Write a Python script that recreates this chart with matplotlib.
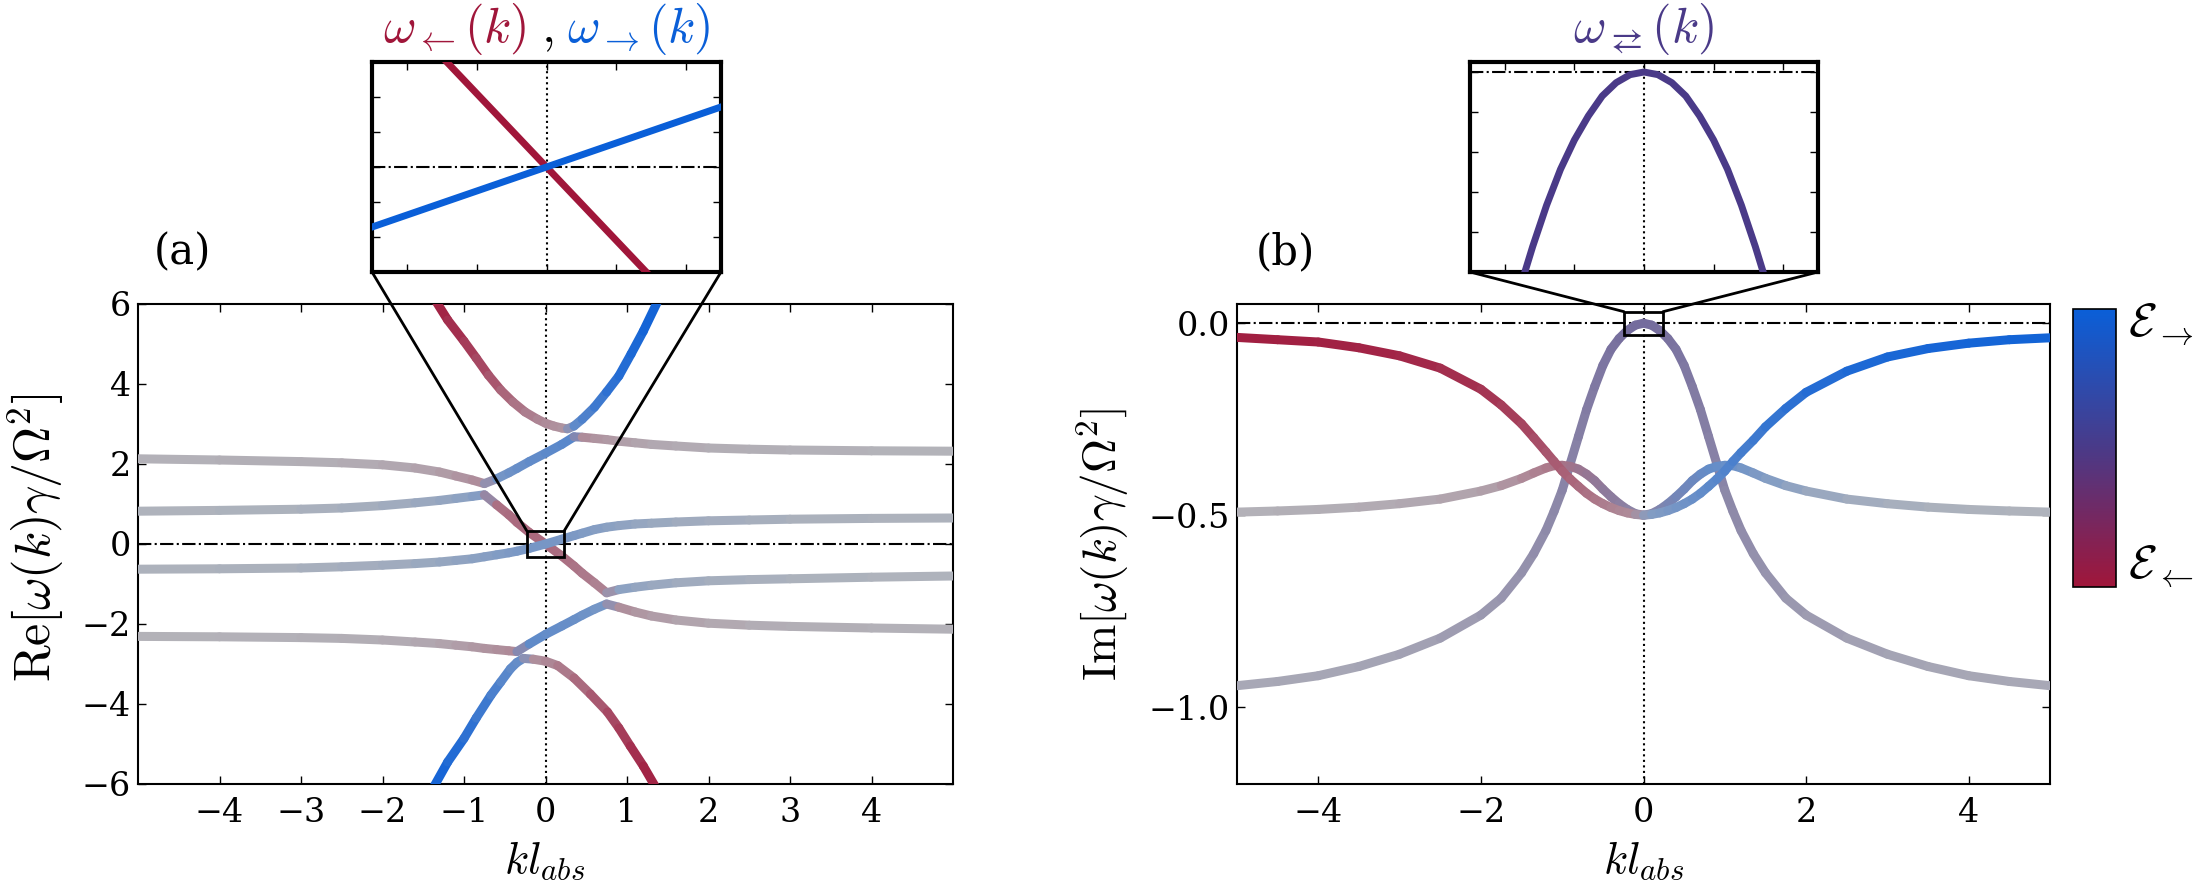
import numpy as np
import matplotlib
matplotlib.use('Agg')
import matplotlib.pyplot as plt
from matplotlib.collections import LineCollection
from matplotlib.colors import LinearSegmentedColormap, to_rgb
from matplotlib.patches import Rectangle, ConnectionPatch
from matplotlib.cm import ScalarMappable
from matplotlib.ticker import FuncFormatter

plt.rcParams['font.family'] = 'DejaVu Serif'
plt.rcParams['mathtext.fontset'] = 'cm'

# ---------------- panel (a): Re[omega] ----------------
# common k grid for the four long bands
k_re = [-5, -4, -3, -2.5, -2, -1.6, -1.3, -1.1, -0.9, -0.75, -0.6, -0.45, -0.35, -0.2, 0,
        0.2, 0.35, 0.45, 0.6, 0.75, 0.9, 1.1, 1.3, 1.6, 2, 2.5, 3, 4, 5]

re_band2 = [2.13, 2.10, 2.06, 2.03, 1.98, 1.90, 1.80, 1.70, 1.60, 1.51, 1.63, 1.78, 1.89, 2.06, 2.27,
            2.49, 2.68, 2.67, 2.64, 2.61, 2.57, 2.53, 2.49, 2.45, 2.40, 2.37, 2.35, 2.33, 2.32]
re_band2_r = [0] * 10 + [1] * 7 + [0] * 12
re_band2_w = [0.02, 0.03, 0.04, 0.05, 0.07, 0.10, 0.14, 0.18, 0.23, 0.27,
              0.35, 0.40, 0.43, 0.47, 0.50, 0.53, 0.55,
              0.28, 0.23, 0.19, 0.16, 0.12, 0.09, 0.07, 0.05, 0.04, 0.03, 0.02, 0.01]

re_band3 = [0.82, 0.84, 0.87, 0.90, 0.96, 1.03, 1.09, 1.14, 1.19, 1.23, 0.98, 0.73, 0.54, 0.29, 0.0,
            -0.30, -0.55, -0.73, -0.97, -1.22, -1.14, -1.08, -1.03, -0.97, -0.92, -0.89, -0.87, -0.83, -0.80]
re_band3_r = [1] * 10 + [0] * 10 + [1] * 9
re_band3_w = [0.02, 0.03, 0.05, 0.07, 0.10, 0.13, 0.17, 0.20, 0.25, 0.30,
              0.42, 0.45, 0.47, 0.48, 0.48, 0.45, 0.42, 0.40, 0.35, 0.30,
              0.25, 0.20, 0.17, 0.13, 0.10, 0.07, 0.05, 0.03, 0.02]

re_band4 = [-0.63, -0.62, -0.60, -0.57, -0.53, -0.49, -0.45, -0.41, -0.37, -0.32, -0.27, -0.22, -0.18, -0.11, 0.0,
            0.12, 0.21, 0.27, 0.36, 0.42, 0.46, 0.50, 0.52, 0.55, 0.58, 0.60, 0.62, 0.64, 0.65]
re_band4_r = [1] * 29
re_band4_w = [0.03, 0.04, 0.06, 0.08, 0.10, 0.13, 0.16, 0.19, 0.22, 0.25, 0.28, 0.31, 0.33, 0.35, 0.36,
              0.35, 0.33, 0.31, 0.28, 0.25, 0.22, 0.19, 0.16, 0.13, 0.10, 0.08, 0.06, 0.04, 0.03]

re_band5 = [-2.31, -2.32, -2.34, -2.36, -2.40, -2.45, -2.49, -2.53, -2.57, -2.61, -2.64, -2.67, -2.69, -2.50, -2.26,
            -2.05, -1.89, -1.78, -1.63, -1.50, -1.58, -1.70, -1.80, -1.90, -1.98, -2.03, -2.06, -2.10, -2.13]
re_band5_r = [0] * 13 + [1] * 7 + [0] * 9
re_band5_w = [0.02, 0.02, 0.03, 0.04, 0.05, 0.07, 0.10, 0.13, 0.17, 0.20, 0.23, 0.26, 0.28,
              0.50, 0.48, 0.46, 0.44, 0.42, 0.38, 0.35,
              0.27, 0.21, 0.17, 0.13, 0.09, 0.06, 0.04, 0.03, 0.02]

# steep outer bands
k_top = [-1.4, -1.2, -1.0, -0.85, -0.7, -0.55, -0.4, -0.25, -0.1, 0.0, 0.1, 0.2, 0.27,
         0.35, 0.45, 0.6, 0.75, 0.9, 1.05, 1.2, 1.42]
re_top = [6.25, 5.6, 5.07, 4.65, 4.22, 3.85, 3.55, 3.3, 3.12, 3.02, 2.95, 2.9, 2.88,
          2.95, 3.12, 3.42, 3.8, 4.2, 4.75, 5.32, 6.25]
re_top_r = [0] * 13 + [1] * 8
re_top_w = [0.95, 0.88, 0.80, 0.72, 0.65, 0.55, 0.45, 0.38, 0.32, 0.28, 0.25, 0.22, 0.20,
            0.45, 0.55, 0.65, 0.75, 0.82, 0.88, 0.92, 0.96]

k_bot = [-1.42, -1.2, -1.0, -0.85, -0.67, -0.55, -0.43, -0.35, -0.27,
         -0.15, 0.0, 0.15, 0.35, 0.55, 0.76, 0.9, 1.04, 1.2, 1.4]
re_bot = [-6.25, -5.45, -4.86, -4.35, -3.78, -3.45, -3.12, -2.96, -2.86,
          -2.88, -2.93, -3.04, -3.35, -3.75, -4.2, -4.6, -5.05, -5.55, -6.25]
re_bot_r = [1] * 9 + [0] * 10
re_bot_w = [0.95, 0.90, 0.82, 0.75, 0.65, 0.58, 0.50, 0.47, 0.45,
            0.22, 0.27, 0.32, 0.42, 0.52, 0.65, 0.72, 0.80, 0.88, 0.95]

# ---------------- panel (b): Im[omega] ----------------
k_im = [-5, -4.5, -4, -3.5, -3, -2.5, -2, -1.75, -1.5, -1.35, -1.2, -1.1, -1, -0.9, -0.8, -0.7,
        -0.6, -0.5, -0.4, -0.3, -0.2, -0.1, 0,
        0.1, 0.2, 0.3, 0.4, 0.5, 0.6, 0.7, 0.8, 0.9, 1, 1.1, 1.2, 1.35, 1.5, 1.75, 2, 2.5, 3,
        3.5, 4, 4.5, 5]

im_dir = [-0.037, -0.043, -0.049, -0.064, -0.085, -0.117, -0.172, -0.213, -0.262, -0.298, -0.335,
          -0.360, -0.385, -0.406, -0.425, -0.443, -0.458, -0.470, -0.480, -0.488, -0.494, -0.498,
          -0.500,
          -0.498, -0.494, -0.488, -0.480, -0.470, -0.458, -0.443, -0.425, -0.406, -0.385, -0.360,
          -0.337, -0.305, -0.270, -0.222, -0.180, -0.125, -0.088, -0.066, -0.052, -0.043, -0.038]
im_dir_r = [0] * 22 + [0.5] + [1] * 22
im_dir_w = [0.95, 0.94, 0.93, 0.92, 0.90, 0.87, 0.82, 0.78, 0.72, 0.67, 0.62, 0.58, 0.55, 0.51,
            0.48, 0.44, 0.40, 0.37, 0.33, 0.30, 0.28, 0.26,
            0.25,
            0.28, 0.30, 0.33, 0.36, 0.39, 0.42, 0.46, 0.50, 0.53, 0.56, 0.60, 0.63, 0.68, 0.72,
            0.78, 0.82, 0.87, 0.90, 0.92, 0.93, 0.94, 0.95]

im_bump = [-0.492, -0.489, -0.485, -0.479, -0.470, -0.458, -0.437, -0.423, -0.404, -0.390, -0.377,
           -0.371, -0.370, -0.373, -0.380, -0.393, -0.410, -0.432, -0.452, -0.470, -0.485, -0.496,
           -0.500,
           -0.496, -0.485, -0.470, -0.452, -0.432, -0.410, -0.393, -0.380, -0.373, -0.370, -0.371,
           -0.377, -0.390, -0.404, -0.423, -0.437, -0.458, -0.470, -0.479, -0.485, -0.489, -0.492]
im_bump_r = [0] * 12 + [0.05, 0.1, 0.2, 0.25, 0.3, 0.35, 0.4, 0.42, 0.45, 0.48,
                        0.5,
                        0.55, 0.6, 0.68, 0.75, 0.8, 0.85, 0.9, 1, 1, 1] + [1] * 12
im_bump_w = [0.02, 0.03, 0.04, 0.05, 0.07, 0.09, 0.12, 0.16, 0.25, 0.30, 0.35, 0.39, 0.42, 0.44,
             0.45, 0.45, 0.45, 0.45, 0.45, 0.43, 0.41, 0.38,
             0.35,
             0.39, 0.42, 0.44, 0.45, 0.46, 0.47, 0.47, 0.47, 0.46, 0.45, 0.42, 0.39, 0.34, 0.30,
             0.24, 0.18, 0.12, 0.08, 0.06, 0.04, 0.03, 0.02]

im_bell = [-0.944, -0.933, -0.918, -0.894, -0.862, -0.820, -0.760, -0.716, -0.650, -0.600, -0.540,
           -0.490, -0.435, -0.365, -0.295, -0.225, -0.165, -0.110, -0.068, -0.040, -0.019, -0.005,
           0.0,
           -0.005, -0.019, -0.040, -0.068, -0.110, -0.165, -0.225, -0.295, -0.365, -0.435, -0.490,
           -0.540, -0.600, -0.650, -0.716, -0.760, -0.820, -0.862, -0.894, -0.918, -0.933, -0.944]
im_bell_r = [0.5] * 45
im_bell_w = [0.10, 0.11, 0.12, 0.13, 0.15, 0.18, 0.22, 0.25, 0.28, 0.31, 0.34, 0.36, 0.38, 0.41,
             0.43, 0.46, 0.48, 0.51, 0.53, 0.56, 0.58, 0.59,
             0.60,
             0.59, 0.58, 0.56, 0.53, 0.51, 0.48, 0.46, 0.43, 0.41, 0.38, 0.36, 0.34, 0.31, 0.28,
             0.25, 0.22, 0.18, 0.15, 0.13, 0.12, 0.11, 0.10]

# ---------------- insets ----------------
k_ins_left = [-0.16, 0.16]
ins_left_red = [0.28, -0.28]
k_ins_blue = [-0.25, 0.25]
ins_left_blue = [-0.143, 0.143]

k_ins_right = [-0.2, -0.18, -0.16, -0.14, -0.12, -0.1, -0.08, -0.06, -0.04, -0.02, 0,
               0.02, 0.04, 0.06, 0.08, 0.1, 0.12, 0.14, 0.16, 0.18, 0.2]
ins_right = [-0.0204, -0.0165, -0.0131, -0.0100, -0.0073, -0.0051, -0.0033, -0.0018, -0.0008, -0.0002, 0,
             -0.0002, -0.0008, -0.0018, -0.0033, -0.0051, -0.0073, -0.0100, -0.0131, -0.0165, -0.0204]

# ---------------- drawing ----------------
W, H = 2195, 883
fig = plt.figure(figsize=(W / 100, H / 100), dpi=100)


def box(x0, y0, x1, y1):
    return [x0 / W, 1 - y1 / H, (x1 - x0) / W, (y1 - y0) / H]


cmap = LinearSegmentedColormap.from_list('dirn', ['#a0163a', '#4a3a88', '#0a5fd8'])
grey = np.array(to_rgb('#b3b5bb'))


def colored_line(ax, k, y, r, w, lw=6.5):
    base = cmap(np.asarray(r, float))[:, :3]
    ww = np.asarray(w, float)[:, None]
    cols = (1 - ww) * grey + ww * base
    pts = np.column_stack([k, y])
    segs = np.stack([pts[:-1], pts[1:]], axis=1)
    lc = LineCollection(segs, colors=0.5 * (cols[:-1] + cols[1:]), linewidths=lw,
                        capstyle='round', zorder=3)
    ax.add_collection(lc)


def style(ax, inset=False):
    ax.tick_params(direction='in', top=True, right=True, length=6, width=1,
                   labelsize=24)
    for s in ax.spines.values():
        s.set_linewidth(3 if inset else 1.5)
    ax.axhline(0, color='k', ls='-.', lw=1.5, zorder=2)
    ax.axvline(0, color='k', ls=':', lw=1.5, zorder=2)


minus = FuncFormatter(lambda v, p: ('%g' % v).replace('-', '\u2212'))
minus1 = FuncFormatter(lambda v, p: ('%.1f' % v).replace('-', '\u2212'))

# panel (a)
axa = fig.add_axes(box(138, 304, 953, 784))
style(axa)
axa.set_xlim(-5, 5)
axa.set_ylim(-6, 6)
axa.set_xticks(range(-4, 5))
axa.set_yticks(range(-6, 7, 2))
axa.xaxis.set_major_formatter(minus)
axa.yaxis.set_major_formatter(minus)
axa.tick_params(axis='x', pad=9)
axa.tick_params(axis='y', pad=5)
colored_line(axa, k_re, re_band2, re_band2_r, re_band2_w)
colored_line(axa, k_re, re_band3, re_band3_r, re_band3_w)
colored_line(axa, k_re, re_band4, re_band4_r, re_band4_w)
colored_line(axa, k_re, re_band5, re_band5_r, re_band5_w)
colored_line(axa, k_top, re_top, re_top_r, re_top_w)
colored_line(axa, k_bot, re_bot, re_bot_r, re_bot_w)
axa.add_patch(Rectangle((-0.23, -0.33), 0.46, 0.66, fill=False, ec='k', lw=2, zorder=6))

# panel (b)
axb = fig.add_axes(box(1237, 304, 2050, 784))
style(axb)
axb.set_xlim(-5, 5)
axb.set_ylim(-1.2, 0.05)
axb.set_xticks([-4, -2, 0, 2, 4])
axb.set_yticks([0, -0.5, -1.0])
axb.xaxis.set_major_formatter(minus)
axb.yaxis.set_major_formatter(minus1)
axb.tick_params(axis='x', pad=9)
axb.tick_params(axis='y', pad=5)
colored_line(axb, k_im, im_bell, im_bell_r, im_bell_w)
colored_line(axb, k_im, im_bump, im_bump_r, im_bump_w)
colored_line(axb, k_im, im_dir, im_dir_r, im_dir_w)
axb.add_patch(Rectangle((-0.24, -0.03), 0.48, 0.06, fill=False, ec='k', lw=2, zorder=6))

# axis labels
fig.text(36 / W, 1 - 538 / H, r'$\mathrm{Re}[\omega(k)\gamma/\Omega^2]$', rotation=90,
         fontsize=36, ha='center', va='center')
fig.text(1103 / W, 1 - 544 / H, r'$\mathrm{Im}[\omega(k)\gamma/\Omega^2]$', rotation=90,
         fontsize=34, ha='center', va='center')
fig.text(545 / W, 1 - 860 / H, r'$kl_{abs}$', fontsize=32, ha='center', va='center')
fig.text(1644 / W, 1 - 860 / H, r'$kl_{abs}$', fontsize=32, ha='center', va='center')
fig.text(182 / W, 1 - 252 / H, '(a)', fontsize=30, ha='center', va='center')
fig.text(1285 / W, 1 - 252 / H, '(b)', fontsize=30, ha='center', va='center')

c_red, c_pur, c_blue = cmap(0.0), cmap(0.5), cmap(1.0)

# inset (a)
ins_a = fig.add_axes(box(372, 62, 721, 272))
style(ins_a, inset=True)
ins_a.set_xlim(-0.25, 0.25)
ins_a.set_ylim(-0.25, 0.25)
ins_a.set_xticks([-0.2, -0.1, 0, 0.1, 0.2])
ins_a.set_yticks(np.linspace(-0.25, 0.25, 7)[1:-1])
ins_a.set_xticklabels([])
ins_a.set_yticklabels([])
ins_a.plot(k_ins_left, ins_left_red, color=c_red, lw=5, zorder=3)
ins_a.plot(k_ins_blue, ins_left_blue, color=c_blue, lw=5, zorder=3)

# inset (b)
ins_b = fig.add_axes(box(1470, 62, 1818, 272))
style(ins_b, inset=True)
ins_b.set_xlim(-0.25, 0.25)
ins_b.set_ylim(-0.015, 0.00075)
ins_b.set_xticks([-0.2, -0.1, 0, 0.1, 0.2])
ins_b.set_yticks([-0.012, -0.009, -0.006, -0.003, 0])
ins_b.set_xticklabels([])
ins_b.set_yticklabels([])
ins_b.plot(k_ins_right, ins_right, color=c_pur, lw=5, zorder=3, solid_joinstyle='round')

# connector lines
for (ins, ax, corners) in [(ins_a, axa, [((0, 0), (-0.23, 0.33)), ((1, 0), (0.23, 0.33))]),
                           (ins_b, axb, [((0, 0), (-0.24, 0.03)), ((1, 0), (0.24, 0.03))])]:
    for a, b in corners:
        cp = ConnectionPatch(xyA=a, coordsA=ins.transAxes, xyB=b, coordsB=ax.transData,
                             color='k', lw=2, zorder=10)
        fig.add_artist(cp)

# inset titles
ty = 1 - 42 / H
fig.text(527 / W, ty, r'$\omega_{\leftarrow}(k)$', color=c_red, fontsize=36, ha='right', va='baseline')
fig.text(547 / W, ty, r'$,$', color='k', fontsize=36, ha='center', va='baseline')
fig.text(567 / W, ty, r'$\omega_{\rightarrow}(k)$', color=c_blue, fontsize=36, ha='left', va='baseline')
fig.text(1644 / W, ty, r'$\omega_{\rightleftarrows}(k)$', color=c_pur, fontsize=36, ha='center', va='baseline')

# colour bar
cpos = box(2073, 309, 2116, 587)
cax = fig.add_axes(cpos)
cb = fig.colorbar(ScalarMappable(cmap=cmap), cax=cax, ticks=[])
cb.outline.set_linewidth(1.2)
cax.set_position(cpos)
fig.text(2128 / W, 1 - 325 / H, r'$\mathcal{E}_{\rightarrow}$', fontsize=34, ha='left', va='center')
fig.text(2128 / W, 1 - 567 / H, r'$\mathcal{E}_{\leftarrow}$', fontsize=34, ha='left', va='center')

fig.savefig('out.png', dpi=100)
